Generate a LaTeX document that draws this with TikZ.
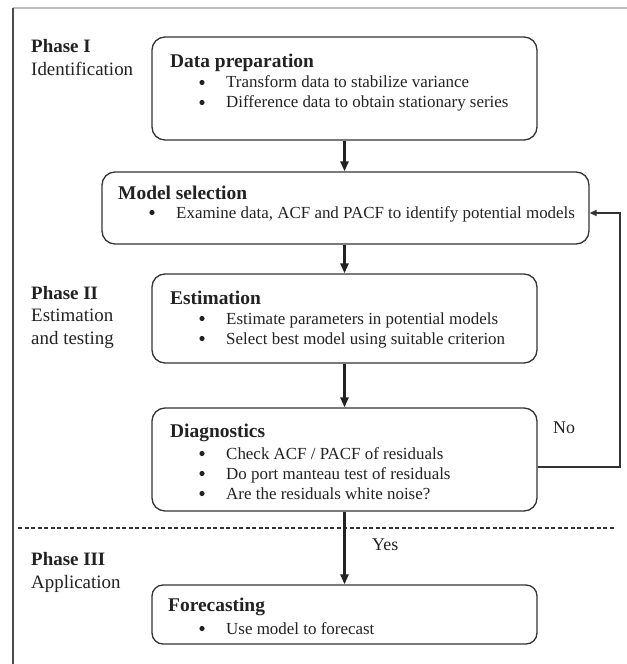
\documentclass[tikz,border=0pt]{standalone}
\usepackage{fontspec}
\setmainfont{Liberation Serif}
\usetikzlibrary{arrows.meta}
\definecolor{ink}{HTML}{222222}
\definecolor{edge}{HTML}{333333}
\newcommand{\bodyfont}{\fontsize{17}{20}\selectfont}
\newcommand{\titlefont}{\fontsize{19.5}{22}\selectfont\bfseries}
\newcommand{\phasefont}{\fontsize{19}{22}\selectfont}
\begin{document}
\begin{tikzpicture}[x=1bp,y=-1bp,
  stagebox/.style={draw=edge,line width=1.3bp,rounded corners=13bp,rectangle,inner sep=0pt,fill=none},
  txt/.style={anchor=base west,inner sep=0pt,text=ink},
  ttl/.style={txt,font=\titlefont},
  itm/.style={txt,font=\bodyfont},
  phs/.style={txt,font=\phasefont},
  phsb/.style={txt,font=\phasefont\bfseries},
  bdot/.style={fill=ink},
  flow/.style={draw=ink,line width=3bp,-{Triangle[length=10bp,width=8bp]}},
  back/.style={draw=edge,line width=1.5bp,-{Triangle[length=7bp,width=6bp]}},
  frameline/.style={line width=1.2bp}
]
\useasboundingbox (0,0) rectangle (627,664);
\fill[white] (0,0) rectangle (627,664);
% outer frame
\coordinate (ftl) at (13,8);
\coordinate (ftr) at (627,8);
\coordinate (fbl) at (13,664);
\draw[frameline,draw=black!25] (ftl) -- (ftr);
\draw[frameline,draw=black!70] (ftl) -- (fbl);

% boxes
\node[stagebox,minimum width=385bp,minimum height=103bp] (dp) at (344.5,88.5) {};
\node[stagebox,minimum width=487bp,minimum height=72bp] (ms) at (345.5,208) {};
\node[stagebox,minimum width=385bp,minimum height=89bp] (est) at (344.5,318.5) {};
\node[stagebox,minimum width=385bp,minimum height=103bp] (diag) at (344.5,459.5) {};
\node[stagebox,minimum width=385bp,minimum height=59bp,rounded corners=11bp] (fc) at (344.5,614.5) {};

% phase labels
\node[phsb] (p1) at (31,53) {Phase I};
\node[phs] (p1b) at (31,76) {Identification};
\node[phsb] (p2) at (31,299) {Phase II};
\node[phs] (p2b) at (31,321) {Estimation};
\node[phs] (p2c) at (31,344) {and testing};
\node[phsb] (p3) at (31,565) {Phase III};
\node[phs] (p3b) at (31,588) {Application};

% box texts
\node[ttl] (dpt) at (170,68) {Data preparation};
\node[itm] (dp1) at (226,88) {Transform data to stabilize variance};
\node[itm] (dp2) at (226,108) {Difference data to obtain stationary series};

\node[ttl] (mst) at (118,199) {Model selection};
\node[itm] (ms1) at (176,218) {Examine data, ACF and PACF to identify potential models};

\node[ttl] (estt) at (170,304) {Estimation};
\node[itm] (est1) at (226,324) {Estimate parameters in potential models};
\node[itm] (est2) at (226,344) {Select best model using suitable criterion};

\node[ttl] (diagt) at (170,437) {Diagnostics};
\node[itm] (diag1) at (226,459) {Check ACF / PACF of residuals};
\node[itm] (diag2) at (226,479) {Do port manteau test of residuals};
\node[itm] (diag3) at (226,499) {Are the residuals white noise?};

\node[ttl] (fct) at (168,611) {Forecasting};
\node[itm] (fc1) at (226,634) {Use model to forecast};

% bullets
\foreach \n in {dp1,dp2,ms1,est1,est2,diag1,diag2,diag3,fc1}
  \fill[bdot] ([xshift=-24bp,yshift=5.5bp]\n.base west) circle (2.6bp);

% dotted separator
\coordinate (sepl) at (18,528);
\coordinate (sepr) at (616,528);
\draw[draw=edge,line width=1.2bp,dash pattern=on 4bp off 2.5bp] (sepl) -- (sepr);

% main flow
\draw[flow] (dp.south) -- (dp.south |- ms.north);
\draw[flow] (dp.south |- ms.south) -- (est.north);
\draw[flow] (est.south) -- (diag.north);
\draw[flow] (diag.south) -- (fc.north);

% feedback
\coordinate (fb1) at (620,467);
\coordinate (fb2) at (620,213);
\draw[back] (diag.east |- fb1) -- (fb1) -- (fb2) -- (ms.east |- fb2);

\node[itm,font=\fontsize{18}{20}\selectfont] (no) at (553,433) {No};
\node[itm,font=\fontsize{18}{20}\selectfont] (yes) at (372,550) {Yes};
\end{tikzpicture}
\end{document}
